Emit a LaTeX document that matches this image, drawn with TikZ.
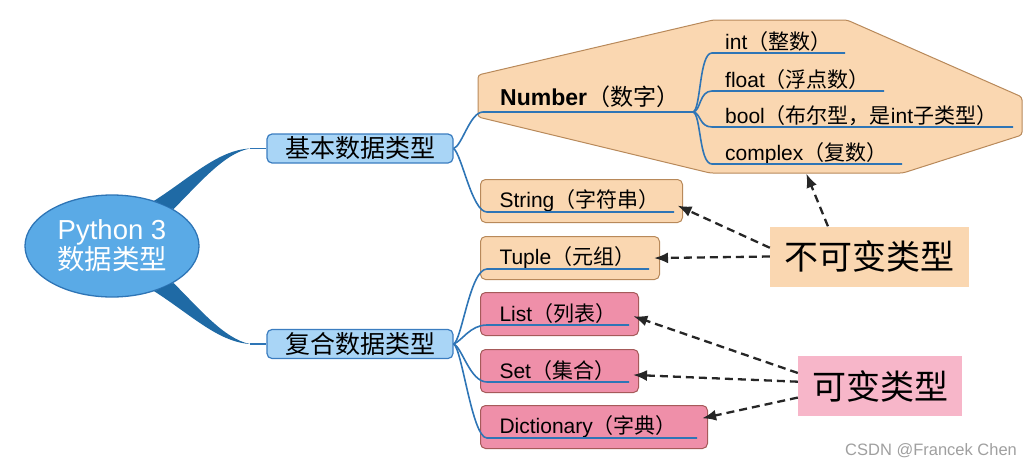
\documentclass[tikz,border=0pt]{standalone}
\usepackage{fontspec}
\setmainfont{Liberation Sans}
\newfontfamily\cjk{Noto Sans CJK SC}
\newcommand{\zh}[1]{{\cjk #1}}
\usetikzlibrary{shapes.geometric,arrows.meta}

\definecolor{linkblue}{HTML}{2E75B6}
\definecolor{rootfill}{HTML}{5AAAE6}
\definecolor{taperblue}{HTML}{1F6AA5}
\definecolor{catfill}{HTML}{A9D5F6}
\definecolor{catline}{HTML}{3B7DC0}
\definecolor{peach}{HTML}{FAD7B1}
\definecolor{peachline}{HTML}{B8895A}
\definecolor{rose}{HTML}{EF8FA9}
\definecolor{roseline}{HTML}{A65A5A}
\definecolor{pinklabel}{HTML}{F7B6C9}

\tikzset{
  root/.style={ellipse, draw=linkblue, fill=rootfill, line width=1.3pt, text=white,
    minimum width=174pt, minimum height=102pt, inner sep=0pt, align=center,
    font=\fontsize{27.5}{30}\selectfont},
  cat/.style={rounded corners=5pt, draw=catline, fill=catfill, line width=1.2pt,
    minimum width=186pt, minimum height=29pt, inner sep=0pt, font=\fontsize{25}{25}\selectfont},
  leafbox/.style={rounded corners=5pt, draw=peachline, fill=peach, line width=1pt,
    minimum height=43pt, inner xsep=19pt, inner ysep=0pt, align=left, anchor=north west,
    font=\fontsize{21}{21}\selectfont},
  mutbox/.style={leafbox, draw=roseline, fill=rose},
  leaf/.style={anchor=base west, inner sep=0pt, font=\fontsize{21}{21}\selectfont},
  link/.style={draw=linkblue, line width=1.6pt},
  tag/.style={minimum height=60pt, inner sep=0pt, font=\fontsize{34}{34}\selectfont},
  dasharrow/.style={draw=black!85, line width=2.3pt, dash pattern=on 8pt off 5pt,
    -{Latex[length=14pt,width=11pt]}, shorten >=-6pt},
}

\begin{document}
\begin{tikzpicture}[x=1pt,y=-1pt]
\useasboundingbox (0,0) rectangle (1032,466);
% root and the two groups
\node[root] (py) at (112,246) {Python 3\\\zh{数据类型}};
\node[cat] (jb) at (360,148.5) {\zh{基本数据类型}};
\node[cat] (fh) at (360,344) {\zh{复合数据类型}};
\coordinate (jbtip) at (250,148.5);
\coordinate (fhtip) at (250,344);
\fill[taperblue] (py.47) .. controls (190,178) and (218,150) .. (jbtip)
  .. controls (224,153) and (198,185) .. (py.31) -- cycle;
\draw[link] (jbtip) -- (jb.west);
\fill[taperblue] (py.-47) .. controls (190,314) and (218,342) .. (fhtip)
  .. controls (224,339) and (198,307) .. (py.-31) -- cycle;
\draw[link] (fhtip) -- (fh.west);
% Number
\filldraw[fill=peach, draw=peachline, line width=1pt, rounded corners=3pt]
  (478,75) -- (713,20) -- (847,20) -- (1022,97) -- (1022,135) -- (903,173) -- (710,173) -- (478,117) -- cycle;
\node[leaf, font=\fontsize{23}{23}\selectfont] (num) at (500,105) {\textbf{Number}\zh{（数字）}};
\coordinate (numL) at (483,112);
\coordinate (numR) at (693,112);
\node[leaf] (int) at (725,49) {int\zh{（整数）}};
\node[leaf] (flt) at (725,87) {float\zh{（浮点数）}};
\node[leaf] (bool) at (725,123) {bool\zh{（布尔型，是}int\zh{子类型）}};
\node[leaf] (cpx) at (725,160) {complex\zh{（复数）}};
\coordinate (intL) at (712,53);  \coordinate (intR) at (845,53);
\coordinate (fltL) at (712,91);  \coordinate (fltR) at (884,91);
\coordinate (boolL) at (712,127); \coordinate (boolR) at (1013,127);
\coordinate (cpxL) at (712,164); \coordinate (cpxR) at (902,164);
\draw[link] (jb.east) .. controls (462,146) and (470,112) .. (numL) -- (numR);
\draw[link] (numR) .. controls (701,110) and (699,53) .. (intL) -- (intR);
\draw[link] (numR) .. controls (701,111) and (699,91) .. (fltL) -- (fltR);
\draw[link] (numR) .. controls (701,113) and (699,127) .. (boolL) -- (boolR);
\draw[link] (numR) .. controls (701,114) and (699,164) .. (cpxL) -- (cpxR);
% boxes
\node[leafbox, text width=164pt] (str) at (480,179) {String\zh{（字符串）}};
\node[leafbox, text width=141pt] (tup) at (480,236) {Tuple\zh{（元组）}};
\node[mutbox, text width=120pt] (lst) at (480,292) {List\zh{（列表）}};
\node[mutbox, text width=120pt] (set) at (480,349) {Set\zh{（集合）}};
\node[mutbox, text width=189pt] (dct) at (480,405) {Dictionary\zh{（字典）}};
\coordinate (strL) at (487,212); \coordinate (strR) at (674,212);
\coordinate (tupL) at (487,269); \coordinate (tupR) at (649,269);
\coordinate (lstL) at (487,325); \coordinate (lstR) at (629,325);
\coordinate (setL) at (487,382); \coordinate (setR) at (629,382);
\coordinate (dctL) at (487,438); \coordinate (dctR) at (697,438);
\draw[link] (jb.east) .. controls (462,155) and (472,212) .. (strL) -- (strR);
\draw[link] (fh.east) .. controls (462,340) and (470,269) .. (tupL) -- (tupR);
\draw[link] (fh.east) .. controls (462,341) and (470,325) .. (lstL) -- (lstR);
\draw[link] (fh.east) .. controls (462,347) and (470,382) .. (setL) -- (setR);
\draw[link] (fh.east) .. controls (462,348) and (472,438) .. (dctL) -- (dctR);
% mutable / immutable
\node[tag, fill=peach, minimum width=199pt] (imm) at (869.5,256.5) {\zh{不可变类型}};
\node[tag, fill=pinklabel, minimum width=164pt] (mut) at (880,386) {\zh{可变类型}};
\draw[dasharrow, shorten >=0pt] (imm.144) -- ([yshift=-9pt]cpx.south);
\draw[dasharrow] (imm.175) -- (str.-4);
\draw[dasharrow] (imm.west) -- (tup.east);
\draw[dasharrow] (mut.171) -- (lst.-3);
\draw[dasharrow] (mut.177) -- (set.-3);
\draw[dasharrow] (mut.188) -- (dct.5);
\node[anchor=base west, inner sep=0pt, text=gray!75, font=\fontsize{16.5}{16.5}\selectfont] (mark) at (845,455) {CSDN @Francek Chen};
\end{tikzpicture}
\end{document}
